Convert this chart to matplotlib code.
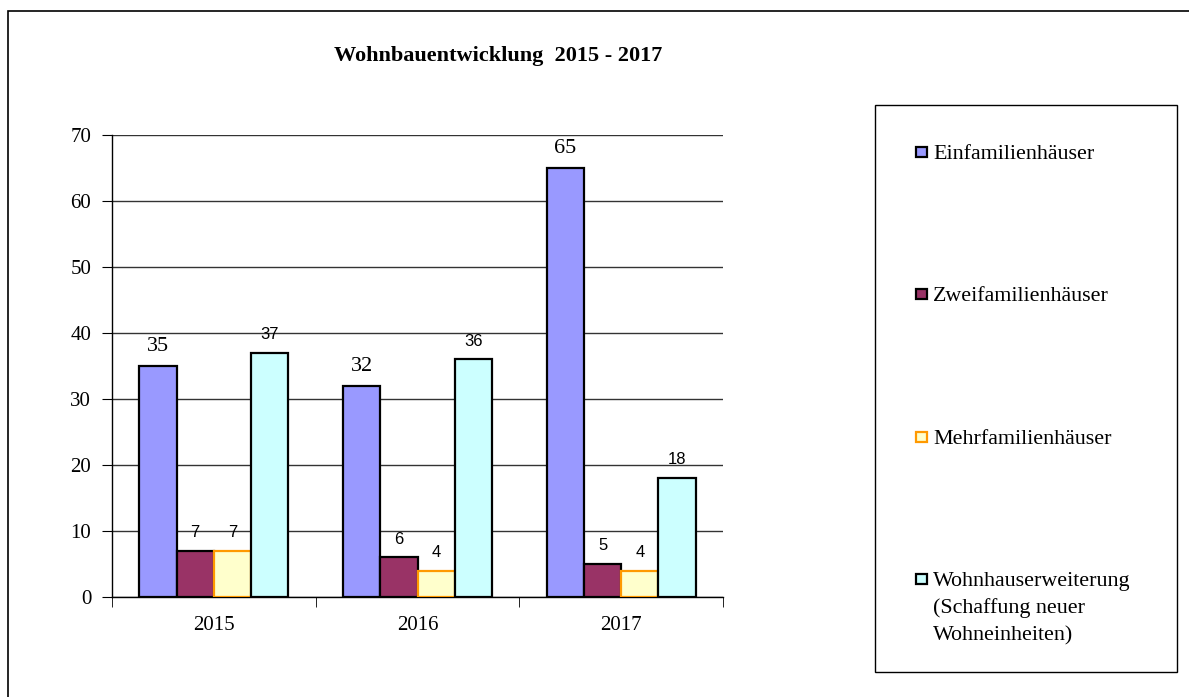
import numpy as np
import matplotlib
matplotlib.use("Agg")
from matplotlib import pyplot as plt
from matplotlib.patches import Rectangle

years = ["2015", "2016", "2017"]
series_names = ["Einfamilienhäuser", "Zweifamilienhäuser", "Mehrfamilienhäuser",
                "Wohnhauserweiterung\n(Schaffung neuer\nWohneinheiten)"]
einfamilien = [35, 32, 65]
zweifamilien = [7, 6, 5]
mehrfamilien = [7, 4, 4]
erweiterung = [37, 36, 18]

values = [einfamilien, zweifamilien, mehrfamilien, erweiterung]
colors = ["#9999FF", "#993366", "#FFFFCC", "#CCFFFF"]
edges = ["black", "black", "#FF9900", "black"]

serif = "Liberation Serif"
sans = "Liberation Sans"

fig = plt.figure(figsize=(11.89, 6.97), dpi=100)
W, H = 1189.0, 697.0

# outer frame (clipped at right/bottom like the reference)
fig.patches.append(Rectangle((8 / W, -0.1), 1.2, (697 - 11) / H + 0.1, transform=fig.transFigure,
                             fill=False, edgecolor="black", linewidth=1.2))

ax = fig.add_axes([112 / W, (H - 597) / H, (723 - 112) / W, (597 - 135) / H])

ind = np.arange(len(years))
width = 0.183
start = -2 * width
for k in range(4):
    rects = ax.bar(ind + start + k * width, values[k], width, align="edge",
                   color=colors[k], edgecolor=edges[k], linewidth=1.6, zorder=3)
    for rect, v in zip(rects, values[k]):
        cx = rect.get_x() + rect.get_width() / 2
        if k == 0:
            ax.annotate(str(v), (cx, v), xytext=(0, 11), textcoords="offset points",
                        ha="center", va="baseline", fontsize=16, family=serif)
        else:
            ax.annotate(str(v), (cx, v), xytext=(0, 10), textcoords="offset points",
                        ha="center", va="baseline", fontsize=12, family=sans)

ax.set_xlim(-0.5, 2.5)
ax.set_ylim(0, 70)
ax.set_yticks(np.arange(0, 71, 10))
ax.yaxis.grid(True, color="#333333", linewidth=1.0, zorder=0)
ax.set_axisbelow(True)
for s in ["top", "right"]:
    ax.spines[s].set_visible(False)
ax.spines["left"].set_linewidth(1.0)
ax.spines["bottom"].set_linewidth(1.0)

ax.set_xticks(ind)
ax.set_xticklabels(years, fontsize=15, family=serif)
ax.set_xticks([-0.5, 0.5, 1.5, 2.5], minor=True)
ax.tick_params(axis="x", which="major", length=0, pad=14)
ax.tick_params(axis="x", which="minor", length=7, direction="out")
ax.tick_params(axis="y", length=7, direction="out", pad=8)
for lbl in ax.get_yticklabels():
    lbl.set_fontsize(15)
    lbl.set_family(serif)

fig.text(498 / W, 1 - 61 / H, "Wohnbauentwicklung  2015 - 2017", ha="center", va="baseline",
         fontsize=16, fontweight="bold", family=serif)

# legend box
fig.patches.append(Rectangle((875 / W, (H - 672) / H), (1177 - 875) / W, (672 - 105) / H,
                             transform=fig.transFigure, fill=False, edgecolor="black", linewidth=1.0))
legend_y = [152, 294, 437, 579]
line_step = 27
for k in range(4):
    y = legend_y[k]
    fig.patches.append(Rectangle((916 / W, (H - y - 5) / H), 11 / W, 10 / H, transform=fig.transFigure,
                                 facecolor=colors[k], edgecolor=edges[k], linewidth=1.6))
    for j, line in enumerate(series_names[k].split("\n")):
        fig.text(933 / W, (H - y - 7 - j * line_step) / H, line, ha="left", va="baseline",
                 fontsize=15.8, family=serif)

plt.savefig("out.png", dpi=100)
